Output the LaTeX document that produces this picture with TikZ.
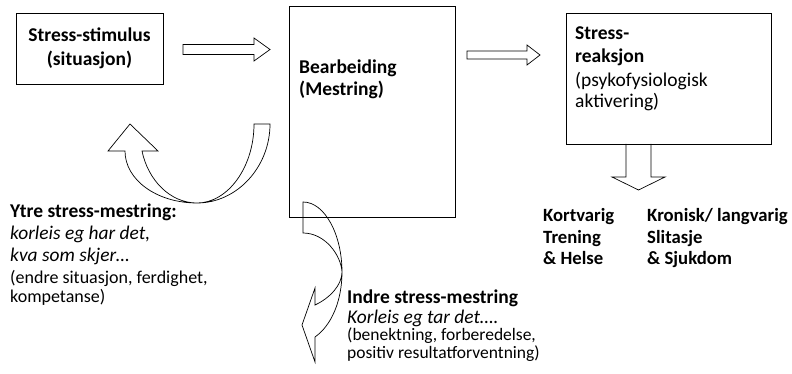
\documentclass[tikz,border=0pt]{standalone}
\usepackage{fontspec}
\setmainfont{Carlito}
\begin{document}
\begin{tikzpicture}[x=1pt,y=-1pt,line join=miter,
  box/.style={draw=black,line width=0.8pt,inner sep=0pt},
  blockarrow/.style={draw=black,line width=0.7pt},
  txt/.style={inner sep=0pt,anchor=base west},
  hbold/.style={font=\fontsize{19.5}{23}\selectfont\bfseries},
  hreg/.style={font=\fontsize{19.5}{23}\selectfont},
  sbold/.style={font=\fontsize{18.7}{22}\selectfont\bfseries},
  sital/.style={font=\fontsize{19.4}{22}\selectfont\itshape},
  sreg/.style={font=\fontsize{18}{22}\selectfont},
  ireg/.style={font=\fontsize{17.5}{20}\selectfont}]
\useasboundingbox (0,0) rectangle (792,374);

% boxes
\node[box,minimum width=147pt,minimum height=71pt,align=center,
  font=\fontsize{19.5}{23.5}\selectfont\bfseries] (stim) at (89.5,48.5) {Stress-stimulus\\(situasjon)};
\node[box,minimum width=166pt,minimum height=211pt] (bear) at (372,111.5) {};
\node[box,minimum width=205pt,minimum height=131pt] (reak) at (668.5,78.5) {};

% box texts
\node[txt,hbold] (bear1) at (299,74) {Bearbeiding};
\node[txt,hbold] (bear2) at (299,96) {(Mestring)};
\node[txt,hbold] (reak1) at (575,40) {Stress-};
\node[txt,hbold] (reak2) at (575,63) {reaksjon};
\node[txt,hreg] (reak3) at (575,87) {(psykofysiologisk};
\node[txt,hreg] (reak4) at (575,108) {aktivering)};

% straight block arrows
\draw[blockarrow] (183,44.5) -- (254,44.5) -- (254,38) -- (270,49.5) -- (254,61) -- (254,54.5) -- (183,54.5) -- cycle;
\draw[blockarrow] (467,51) -- (527,51) -- (527,45) -- (540,55) -- (527,65) -- (527,59) -- (467,59) -- cycle;
\draw[blockarrow] (626,144) -- (626,177) -- (612,177) -- (638.5,190) -- (665,177) -- (651,177) -- (651,144);

% curved arrow (Ytre)
\draw[blockarrow] (254,124) -- (270,124)
  .. controls (270,167) and (237,203) .. (197,203)
  .. controls (157,203) and (125,180) .. (125,151)
  -- (108,151) -- (130,124) -- (158,151) -- (142,151)
  .. controls (148,180) and (170,203) .. (197,203)
  .. controls (228,203) and (254,167) .. (254,124) -- cycle;

% curved arrow (Indre)
\draw[blockarrow] (303,202)
  .. controls (325,202) and (342,235) .. (342,272)
  .. controls (342,300) and (332,325) .. (315,337)
  -- (315,362) -- (302,325) -- (315,288) -- (315,305)
  .. controls (330,298) and (342,285) .. (342,272)
  .. controls (341,255) and (325,233) .. (303,233) -- cycle;

% outcome texts
\node[txt,sbold] (kort1) at (543,222) {Kortvarig};
\node[txt,sbold] (kort2) at (543,243) {Trening};
\node[txt,sbold] (kort3) at (543,264) {\& Helse};
\node[txt,sbold] (kron1) at (647,222) {Kronisk/ langvarig};
\node[txt,sbold] (kron2) at (647,243) {Slitasje};
\node[txt,sbold] (kron3) at (647,264) {\& Sjukdom};

% Ytre
\node[txt,hbold] (ytre1) at (10,218) {Ytre stress-mestring:};
\node[txt,sital] (ytre2) at (10,240) {korleis eg har det,};
\node[txt,sital] (ytre3) at (10,261) {kva som skjer…};
\node[txt,sreg] (ytre4) at (10,283) {(endre situasjon, ferdighet,};
\node[txt,sreg] (ytre5) at (10,302) {kompetanse)};

% Indre
\node[txt,hbold] (indre1) at (347,303) {Indre stress-mestring};
\node[txt,sital] (indre2) at (347,323) {Korleis eg tar det….};
\node[txt,ireg] (indre3) at (347,340) {(benektning, forberedelse,};
\node[txt,ireg] (indre4) at (347,358) {positiv resultatforventning)};
\end{tikzpicture}
\end{document}
